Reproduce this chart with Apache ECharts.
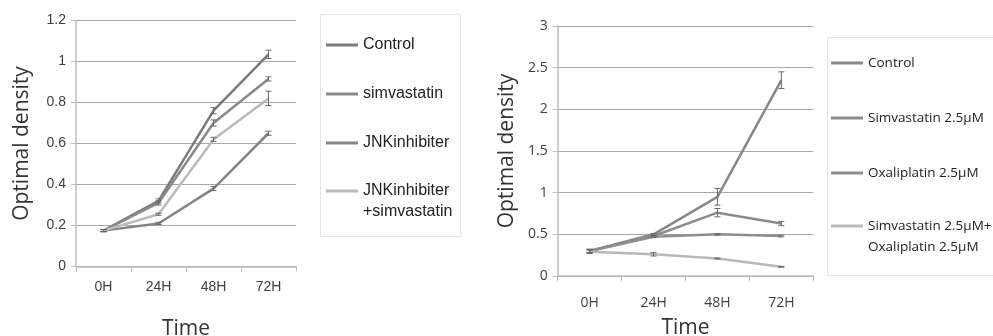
<!DOCTYPE html>
<html>
<head>
<meta charset="utf-8">
<script src="https://cdn.jsdelivr.net/npm/echarts@6/dist/echarts.min.js"></script>
<style>
  html, body { margin: 0; padding: 0; background: #fff; }
  #chart { width: 993px; height: 336px; }
</style>
</head>
<body>
<div id="chart"></div>
<script>
// Shared time points
const timeLabels = ['0H', '24H', '48H', '72H'];

// Panel A: JNK inhibitor experiment (mean optical density, error)
const aLabels = ['Control', 'simvastatin', 'JNKinhibiter', 'JNKinhibiter\n+simvastatin'];
const aControl = [0.175, 0.32, 0.76, 1.035];
const aSimva = [0.175, 0.31, 0.70, 0.915];
const aJnk = [0.175, 0.21, 0.38, 0.65];
const aJnkSimva = [0.175, 0.255, 0.62, 0.82];
const aControlErr = [0.005, 0.01, 0.015, 0.02];
const aSimvaErr = [0.005, 0.01, 0.015, 0.01];
const aJnkErr = [0.005, 0.005, 0.01, 0.01];
const aJnkSimvaErr = [0.005, 0.005, 0.01, 0.035];

// Panel B: oxaliplatin experiment
const bLabels = ['Control', 'Simvastatin 2.5\u03bcM', 'Oxaliplatin 2.5\u03bcM', 'Simvastatin 2.5\u03bcM+\nOxaliplatin 2.5\u03bcM'];
const bControl = [0.30, 0.50, 0.95, 2.35];
const bSimva = [0.30, 0.48, 0.76, 0.63];
const bOxali = [0.30, 0.47, 0.50, 0.48];
const bCombo = [0.29, 0.26, 0.21, 0.11];
const bControlErr = [0.02, 0.01, 0.10, 0.10];
const bSimvaErr = [0.02, 0.01, 0.05, 0.025];
const bOxaliErr = [0.02, 0.01, 0.01, 0.01];
const bComboErr = [0.02, 0.02, 0.005, 0.005];

const aColors = ['#7b7b7b', '#898989', '#858585', '#bababa'];
const bColors = ['#888888', '#8b8b8b', '#8e8e8e', '#b8b8b8'];

const aIds = aLabels.map((l, i) => 'A' + i);
const bIds = bLabels.map((l, i) => 'B' + i);
const displayName = {};
aIds.forEach((id, i) => displayName[id] = aLabels[i]);
bIds.forEach((id, i) => displayName[id] = bLabels[i]);

function lineSeries(id, values, color, idx) {
  return {
    name: id, type: 'line', data: values,
    xAxisIndex: idx, yAxisIndex: idx,
    symbol: 'none', smooth: false, z: 2,
    lineStyle: { color: color, width: 2.5 },
    itemStyle: { color: color }
  };
}

function errorBars(values, errs, idx) {
  return {
    type: 'custom', xAxisIndex: idx, yAxisIndex: idx, z: 3, silent: true,
    data: values.map((v, i) => [i, v - errs[i], v + errs[i]]),
    encode: { x: 0, y: [1, 2] },
    renderItem(params, api) {
      const lo = api.coord([api.value(0), api.value(1)]);
      const hi = api.coord([api.value(0), api.value(2)]);
      const w = 3;
      const st = { stroke: '#6a6a6a', lineWidth: 1 };
      return {
        type: 'group',
        children: [
          { type: 'line', shape: { x1: lo[0], y1: lo[1], x2: hi[0], y2: hi[1] }, style: st },
          { type: 'line', shape: { x1: lo[0] - w, y1: lo[1], x2: lo[0] + w, y2: lo[1] }, style: st },
          { type: 'line', shape: { x1: hi[0] - w, y1: hi[1], x2: hi[0] + w, y2: hi[1] }, style: st }
        ]
      };
    }
  };
}

function yAxisCfg(idx, max, interval, fontFamily, nameGap) {
  return {
    type: 'value', gridIndex: idx, min: 0, max: max, interval: interval,
    name: 'Optimal density', nameLocation: 'middle', nameGap: nameGap,
    nameTextStyle: { fontFamily: 'Open Sans', fontSize: 21, color: '#333' },
    axisLine: { show: true, lineStyle: { color: '#bdbdbd', width: 1.5 } },
    axisTick: { show: true, length: 5, lineStyle: { color: '#bdbdbd' } },
    axisLabel: { fontFamily: fontFamily, fontSize: 14, color: '#404040', margin: 10 },
    splitLine: { show: true, lineStyle: { color: '#a8a8a8', width: 1 } }
  };
}

function xAxisCfg(idx, fontFamily, margin, nameGap) {
  return {
    type: 'category', gridIndex: idx, data: timeLabels, boundaryGap: true,
    name: 'Time', nameLocation: 'middle', nameGap: nameGap,
    nameTextStyle: { fontFamily: 'Open Sans', fontSize: 21, color: '#333' },
    axisLine: { show: true, lineStyle: { color: '#bdbdbd', width: 1.5 } },
    axisTick: { show: true, length: 5, alignWithLabel: false, lineStyle: { color: '#bdbdbd' } },
    axisLabel: { fontFamily: fontFamily, fontSize: 14, color: '#404040', margin: margin },
    splitLine: { show: false }
  };
}

// Vertical legend; a two-line entry gets a blank leading line so that
// its swatch lines up with the first line of text.
function legendCfg(ids, left, top, gap, font, size, lh, twoLine) {
  return {
    orient: 'vertical', left: left, top: top, itemGap: gap, padding: 0,
    icon: 'rect', itemWidth: 32, itemHeight: 3,
    data: ids,
    formatter: (n) => (twoLine ? ' \n' : '') + displayName[n],
    textStyle: { fontFamily: font, fontSize: size, lineHeight: lh, color: '#222' }
  };
}

const sansA = "'Liberation Sans', Arial, sans-serif";
const sansB = "'Open Sans', sans-serif";

const chart = echarts.init(document.getElementById('chart'), null, { renderer: 'canvas' });
chart.setOption({
  backgroundColor: '#ffffff',
  animation: false,
  graphic: [
    { type: 'rect', shape: { x: 320.5, y: 14.5, width: 140, height: 222 }, style: { fill: '#fff', stroke: '#e4e4e4', lineWidth: 1 }, z: -1 },
    { type: 'rect', shape: { x: 827.5, y: 37.5, width: 170, height: 238 }, style: { fill: '#fff', stroke: '#e4e4e4', lineWidth: 1 }, z: -1 }
  ],
  grid: [
    { left: 76, top: 20.5, width: 220, height: 246, outerBoundsMode: 'none', containLabel: false },
    { left: 557.7, top: 26, width: 255.6, height: 250, outerBoundsMode: 'none', containLabel: false }
  ],
  xAxis: [
    xAxisCfg(0, sansA, 14, 52),
    xAxisCfg(1, sansB, 20, 42)
  ],
  yAxis: [
    yAxisCfg(0, 1.2, 0.2, sansA, 43),
    yAxisCfg(1, 3, 0.5, sansB, 40)
  ],
  legend: [
    legendCfg(aIds.slice(0, 3), 326, 34.5, 28, sansA, 16, 21, false),
    legendCfg(aIds.slice(3), 326, 159.5, 0, sansA, 16, 21, true),
    legendCfg(bIds.slice(0, 3), 831, 52.5, 34, sansB, 13.5, 21, false),
    legendCfg(bIds.slice(3), 831, 194.5, 0, sansB, 13.5, 21, true)
  ],
  series: [
    lineSeries(aIds[0], aControl, aColors[0], 0),
    lineSeries(aIds[1], aSimva, aColors[1], 0),
    lineSeries(aIds[2], aJnk, aColors[2], 0),
    lineSeries(aIds[3], aJnkSimva, aColors[3], 0),
    errorBars(aControl, aControlErr, 0),
    errorBars(aSimva, aSimvaErr, 0),
    errorBars(aJnk, aJnkErr, 0),
    errorBars(aJnkSimva, aJnkSimvaErr, 0),
    lineSeries(bIds[0], bControl, bColors[0], 1),
    lineSeries(bIds[1], bSimva, bColors[1], 1),
    lineSeries(bIds[2], bOxali, bColors[2], 1),
    lineSeries(bIds[3], bCombo, bColors[3], 1),
    errorBars(bControl, bControlErr, 1),
    errorBars(bSimva, bSimvaErr, 1),
    errorBars(bOxali, bOxaliErr, 1),
    errorBars(bCombo, bComboErr, 1)
  ]
});
</script>
</body>
</html>
